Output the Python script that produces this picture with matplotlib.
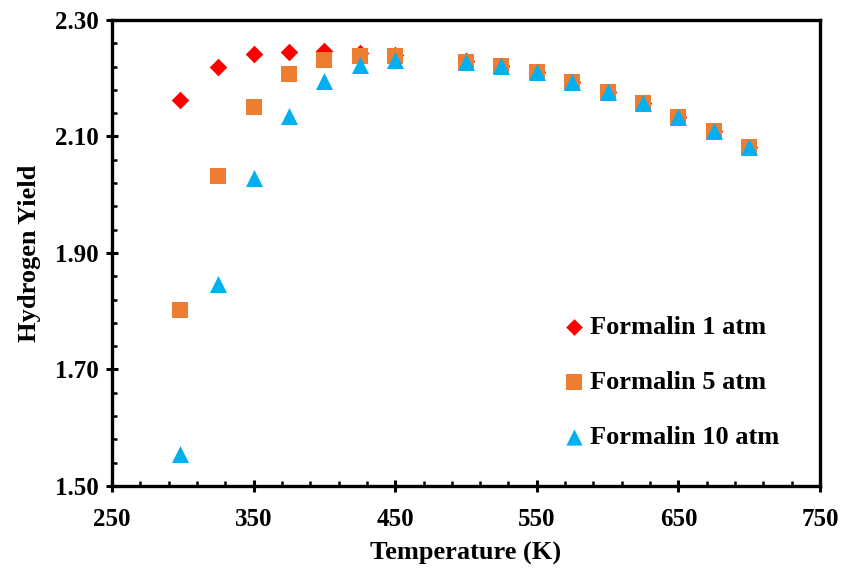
import numpy as np
import matplotlib.pyplot as plt
from matplotlib.ticker import FixedLocator, FormatStrFormatter

# Temperatures (K)
temp_1 = [298, 325, 350, 375, 400, 425, 450, 500, 525, 550, 575, 600, 625, 650, 675, 700]
temp_5 = temp_1
temp_10 = temp_1

# Hydrogen yield
yield_1 = [2.163, 2.219, 2.241, 2.245, 2.246, 2.243, 2.240, 2.229, 2.221, 2.210, 2.194,
           2.177, 2.157, 2.133, 2.109, 2.082]
yield_5 = [1.802, 2.032, 2.151, 2.207, 2.231, 2.239, 2.239, 2.228, 2.221, 2.210, 2.194,
           2.177, 2.157, 2.133, 2.109, 2.082]
yield_10 = [1.555, 1.847, 2.029, 2.135, 2.196, 2.223, 2.231, 2.228, 2.221, 2.210, 2.194,
            2.177, 2.157, 2.133, 2.109, 2.082]

labels = ['Formalin 1 atm', 'Formalin 5 atm', 'Formalin 10 atm']

plt.rcParams['font.family'] = ['Liberation Serif', 'DejaVu Serif']
plt.rcParams['font.weight'] = 'bold'

fig = plt.figure(figsize=(8.41, 5.71), dpi=100)
ax = fig.add_axes([0.1332, 0.1489, 0.975 - 0.1332, 0.965 - 0.1489])

ax.scatter(temp_1, yield_1, marker='D', s=80, color='#FF0000', linewidths=0, label=labels[0], zorder=3)
ax.scatter(temp_5, yield_5, marker='s', s=140, color='#ED7D31', linewidths=0, label=labels[1], zorder=4)
ax.scatter(temp_10, yield_10, marker='^', s=150, color='#00B0F0', linewidths=0, label=labels[2], zorder=5)

ax.set_xlim(250, 750)
ax.set_ylim(1.50, 2.30)
ax.xaxis.set_major_locator(FixedLocator(np.arange(250, 751, 100)))
ax.xaxis.set_minor_locator(FixedLocator(np.arange(250, 751, 20)))
ax.yaxis.set_major_locator(FixedLocator(np.arange(1.50, 2.301, 0.2)))
ax.yaxis.set_minor_locator(FixedLocator(np.arange(1.50, 2.301, 0.04)))
ax.yaxis.set_major_formatter(FormatStrFormatter('%.2f'))

ax.tick_params(which='major', direction='inout', length=9, width=2.2, labelsize=18)
ax.tick_params(axis='x', which='major', pad=11)
ax.tick_params(axis='y', which='major', pad=5)
ax.tick_params(which='minor', direction='in', length=3.5, width=1.8)
ax.tick_params(top=False, right=False, which='both')

for side in ['left', 'bottom', 'top', 'right']:
    ax.spines[side].set_linewidth(2.4)

for lab in ax.get_xticklabels() + ax.get_yticklabels():
    lab.set_fontweight('bold')

ax.set_xlabel('Temperature (K)', fontsize=19, fontweight='bold', labelpad=8)
ax.set_ylabel('Hydrogen Yield', fontsize=19, fontweight='bold', labelpad=10)

leg = ax.legend(loc='center left', bbox_to_anchor=(0.642, 0.331), bbox_transform=fig.transFigure,
                frameon=False, labelspacing=1.2, handlelength=0.8, handletextpad=0.2,
                markerscale=0.95, prop={'weight': 'bold', 'size': 19})

fig.savefig('out.png', dpi=100)
